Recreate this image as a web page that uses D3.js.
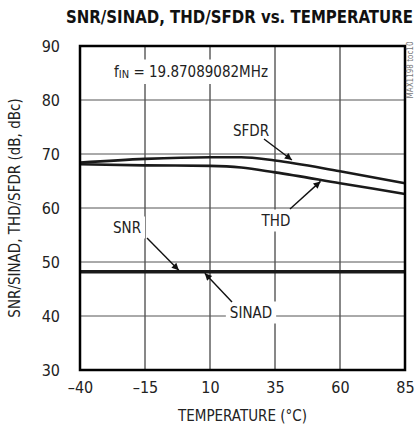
<!DOCTYPE html>
<html>
<head>
<meta charset="utf-8">
<script src="https://cdn.jsdelivr.net/npm/d3@7"></script>
<style>
  body { margin: 0; background: #fff; }
  text { font-family: "Liberation Sans Narrow", "DejaVu Sans Condensed", "DejaVu Sans", sans-serif; font-stretch: condensed; fill: #222; }
</style>
</head>
<body>
<script>
//chart data
var temps = [-40, -15, 10, 22, 35, 60, 85];
var sfdr = [68.4, 69.1, 69.4, 69.4, 68.8, 66.8, 64.6];
var thd = [68.1, 67.9, 67.8, 67.5, 66.6, 64.6, 62.6];
var snr = [48.3, 48.3, 48.3, 48.3, 48.3, 48.3, 48.3];
var sinad = [48.1, 48.1, 48.1, 48.1, 48.1, 48.1, 48.1];
var xTicks = [-40, -15, 10, 35, 60, 85];
var yTicks = [30, 40, 50, 60, 70, 80, 90];

(function(){
    var width = 417, height = 432;
    var margin = {left: 80, right: 12, top: 46, bottom: 62};

    var svg = d3.select("body").append("svg")
        .attr("width", width)
        .attr("height", height);

    var x = d3.scaleLinear().domain([-40, 85]).range([margin.left, width - margin.right]);
    var y = d3.scaleLinear().domain([30, 90]).range([height - margin.bottom, margin.top]);

    //arrow head
    svg.append("defs").append("marker")
        .attr("id", "arrow")
        .attr("viewBox", "0 0 10 10")
        .attr("refX", 10).attr("refY", 5)
        .attr("markerWidth", 10).attr("markerHeight", 7)
        .attr("markerUnits", "userSpaceOnUse")
        .attr("orient", "auto")
        .append("path")
        .attr("d", "M0,0 L10,5 L0,10 z")
        .attr("fill", "#111");

    //grid
    var grid = svg.append("g");
    grid.selectAll(".vg").data(xTicks.slice(1, -1)).enter().append("line")
        .attr("x1", function(d){ return x(d); }).attr("x2", function(d){ return x(d); })
        .attr("y1", y(90)).attr("y2", y(30))
        .attr("stroke", "#111").attr("stroke-width", 1);
    grid.selectAll(".hg").data(yTicks.slice(1, -1)).enter().append("line")
        .attr("x1", x(-40)).attr("x2", x(85))
        .attr("y1", function(d){ return y(d); }).attr("y2", function(d){ return y(d); })
        .attr("stroke", "#555").attr("stroke-width", 1);

    //axes (labels only)
    var xAxis = svg.append("g")
        .attr("transform", "translate(0," + (y(30) + 9) + ")")
        .call(d3.axisBottom(x).tickValues(xTicks).tickSize(0).tickFormat(function(d){ return d < 0 ? "\u2013" + (-d) : d; }));
    xAxis.select(".domain").remove();
    xAxis.selectAll("text").style("font-size", "16px").attr("dy", "0.71em");

    var yAxis = svg.append("g")
        .attr("transform", "translate(" + (x(-40) - 17) + ",0)")
        .call(d3.axisLeft(y).tickValues(yTicks).tickSize(0));
    yAxis.select(".domain").remove();
    yAxis.selectAll("text").style("font-size", "16px");

    //lines
    var line = d3.line()
        .x(function(d, i){ return x(temps[i]); })
        .y(function(d){ return y(d); })
        .curve(d3.curveMonotoneX);

    [sfdr, thd, snr, sinad].forEach(function(s){
        svg.append("path")
            .datum(s)
            .attr("d", line)
            .attr("fill", "none")
            .attr("stroke", "#1a1a1a")
            .attr("stroke-width", 2.6);
    });

    //frame
    svg.append("rect")
        .attr("x", x(-40)).attr("y", y(90))
        .attr("width", x(85) - x(-40)).attr("height", y(30) - y(90))
        .attr("fill", "none").attr("stroke", "#000").attr("stroke-width", 2.5);

    //annotation labels with white boxes
    function label(txt, cx, cy, box){
        var g = svg.append("g");
        var t = g.append("text")
            .attr("x", cx).attr("y", cy)
            .attr("text-anchor", "middle")
            .attr("dominant-baseline", "middle")
            .style("font-size", "15px")
            .text(txt);
        if (box) {
            var b = t.node().getBBox();
            g.insert("rect", "text")
                .attr("x", b.x - 4).attr("y", b.y - 2)
                .attr("width", b.width + 8).attr("height", b.height + 4)
                .attr("fill", "#fff");
        }
        return t;
    }

    function arrow(x1, y1, x2, y2){
        svg.append("line")
            .attr("x1", x1).attr("y1", y1).attr("x2", x2).attr("y2", y2)
            .attr("stroke", "#111").attr("stroke-width", 1.4)
            .attr("marker-end", "url(#arrow)");
    }

    //fIN label
    var fg = svg.append("g");
    var ft = fg.append("text")
        .attr("x", 191).attr("y", 72)
        .attr("text-anchor", "middle")
        .attr("dominant-baseline", "middle")
        .style("font-size", "15px");
    ft.append("tspan").text("f");
    ft.append("tspan").attr("dy", 3).style("font-size", "11px").text("IN");
    ft.append("tspan").attr("dy", -3).text(" = 19.87089082MHz");
    var fb = ft.node().getBBox();
    fg.insert("rect", "text")
        .attr("x", fb.x - 6).attr("y", fb.y - 3)
        .attr("width", fb.width + 12).attr("height", fb.height + 6)
        .attr("fill", "#fff");

    label("SFDR", 251, 131, true);
    arrow(264, 139, x(41.5), y(68.7) - 1);

    label("THD", 276, 221, true);
    arrow(290, 209, x(52.5), y(65.3) + 2);

    label("SNR", 127, 228, true);
    arrow(147, 238, x(-2), y(48.3) - 1);

    label("SINAD", 251, 313, true);
    arrow(232, 302, x(8), y(48.1) + 1);

    //title, squeezed narrow and tall like the original
    svg.append("g")
        .attr("transform", "translate(66,23) scale(1,1.25)")
        .append("text")
        .attr("x", 0).attr("y", 0)
        .attr("textLength", 347)
        .attr("lengthAdjust", "spacingAndGlyphs")
        .style("font-size", "14px")
        .style("font-weight", "bold")
        .style("fill", "#111")
        .text("SNR/SINAD, THD/SFDR vs. TEMPERATURE");

    //axis titles
    svg.append("text")
        .attr("transform", "translate(20," + ((y(30) + y(90)) / 2) + ") rotate(-90)")
        .attr("text-anchor", "middle")
        .style("font-size", "15px")
        .text("SNR/SINAD, THD/SFDR (dB, dBc)");

    svg.append("text")
        .attr("x", (x(-40) + x(85)) / 2).attr("y", 421)
        .attr("text-anchor", "middle")
        .style("font-size", "15px")
        .text("TEMPERATURE (\u00b0C)");

    //chart id
    svg.append("text")
        .attr("transform", "translate(413,70) rotate(-90)")
        .attr("text-anchor", "middle")
        .style("font-size", "8px")
        .style("fill", "#777")
        .text("MAX1198 toc10");
})();
</script>
</body>
</html>
